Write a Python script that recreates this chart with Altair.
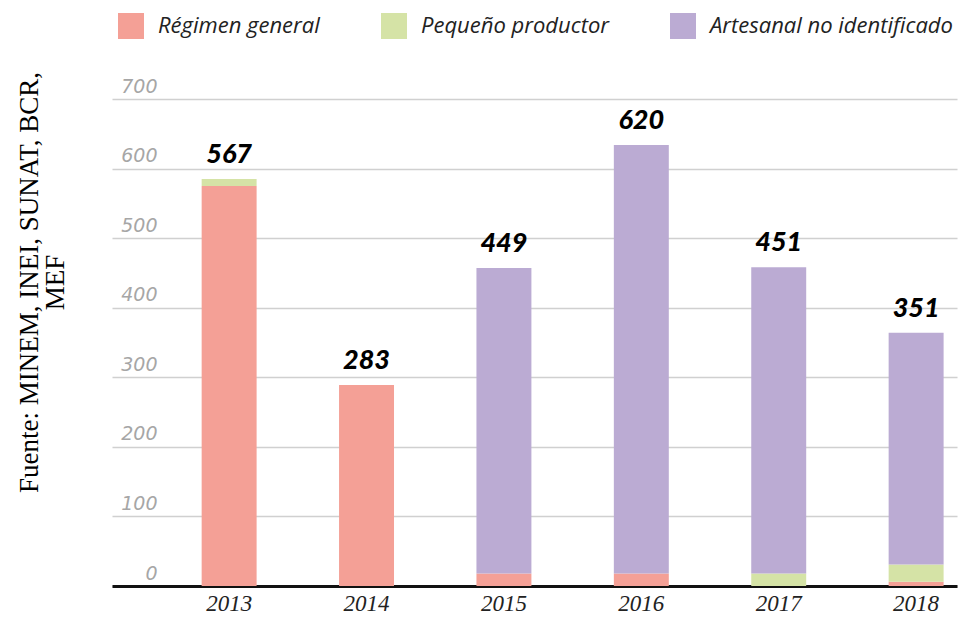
import altair as alt
import pandas as pd

years = ["2013", "2014", "2015", "2016", "2017", "2018"]
series = ["Régimen general", "Pequeño productor", "Artesanal no identificado"]
colors = ["#F4A096", "#D5E3A6", "#BBABD3"]

regimen = [575, 289, 18, 18, 0, 6]
pequeno = [10, 0, 0, 0, 18, 25]
artesanal = [0, 0, 439, 616, 440, 333]
total_labels = ["567", "283", "449", "620", "451", "351"]
y_ticks = [0, 100, 200, 300, 400, 500, 600, 700]
source = ["Fuente: MINEM, INEI, SUNAT, BCR,", "MEF"]

rows = []
for i, yr in enumerate(years):
    for k, vals in enumerate([regimen, pequeno, artesanal]):
        rows.append({"anio": yr, "serie": series[k], "valor": vals[i], "orden": k})
df = pd.DataFrame(rows)

tot = pd.DataFrame({
    "anio": years,
    "total": [regimen[i] + pequeno[i] + artesanal[i] for i in range(len(years))],
    "etiqueta": total_labels,
})

x_enc = alt.X(
    "anio:N",
    sort=years,
    scale=alt.Scale(paddingInner=0.6, paddingOuter=0.375, align=0.87),
    axis=alt.Axis(
        title=None, labelAngle=0, ticks=False, tickSize=0, labelPadding=6,
        labelFont="Liberation Serif", labelFontStyle="italic", labelFontSize=23,
        labelColor="#222222", domainColor="#111111", domainWidth=3, grid=False,
    ),
)

y_axis = alt.Axis(
    values=y_ticks, title=source, titleAngle=270, titleX=-83, titleY=183,
    titleAlign="center", titleBaseline="middle", titleLineHeight=26,
    titleFont="Liberation Serif", titleFontSize=27, titleFontWeight="normal",
    titleColor="#000000",
    domain=False, ticks=False, tickSize=0, labelAlign="right", labelBaseline="bottom",
    labelPadding=-45, labelOffset=-3, labelFont="DejaVu Sans", labelFontStyle="italic",
    labelFontSize=19, labelFontWeight=300, labelColor="#a6a6a6",
    grid=True, gridColor="#d0d0d0", gridWidth=1.5,
)
y_scale = alt.Scale(domain=[0, 700], nice=False)

bars = alt.Chart(df).mark_bar().encode(
    x=x_enc,
    y=alt.Y("valor:Q", stack="zero", scale=y_scale, axis=y_axis),
    color=alt.Color(
        "serie:N",
        scale=alt.Scale(domain=series, range=colors),
        legend=alt.Legend(
            title=None, orient="none", legendX=6, legendY=-86, direction="horizontal",
            symbolType="square", symbolSize=676, symbolStrokeWidth=0,
            labelFont="Open Sans", labelFontStyle="italic", labelFontSize=22,
            labelColor="#222222", labelOffset=14, columnPadding=61, labelLimit=400,
            padding=0,
        ),
    ),
    order=alt.Order("orden:Q"),
)

labels = alt.Chart(tot).mark_text(
    baseline="bottom", dy=-10, font="Lato", fontStyle="italic", fontWeight=900,
    fontSize=27, color="#000000",
).encode(
    x=x_enc,
    y=alt.Y("total:Q", scale=y_scale, axis=y_axis),
    text="etiqueta:N",
)

chart = alt.layer(bars, labels).properties(
    width=845, height=487,
    autosize=alt.AutoSizeParams(type="none"),
    padding={"left": 104, "top": 91, "right": 1, "bottom": 30},
    background="#ffffff",
).configure_view(stroke=None)

chart.save("out.html", embed_options={"renderer": "svg", "actions": False})
